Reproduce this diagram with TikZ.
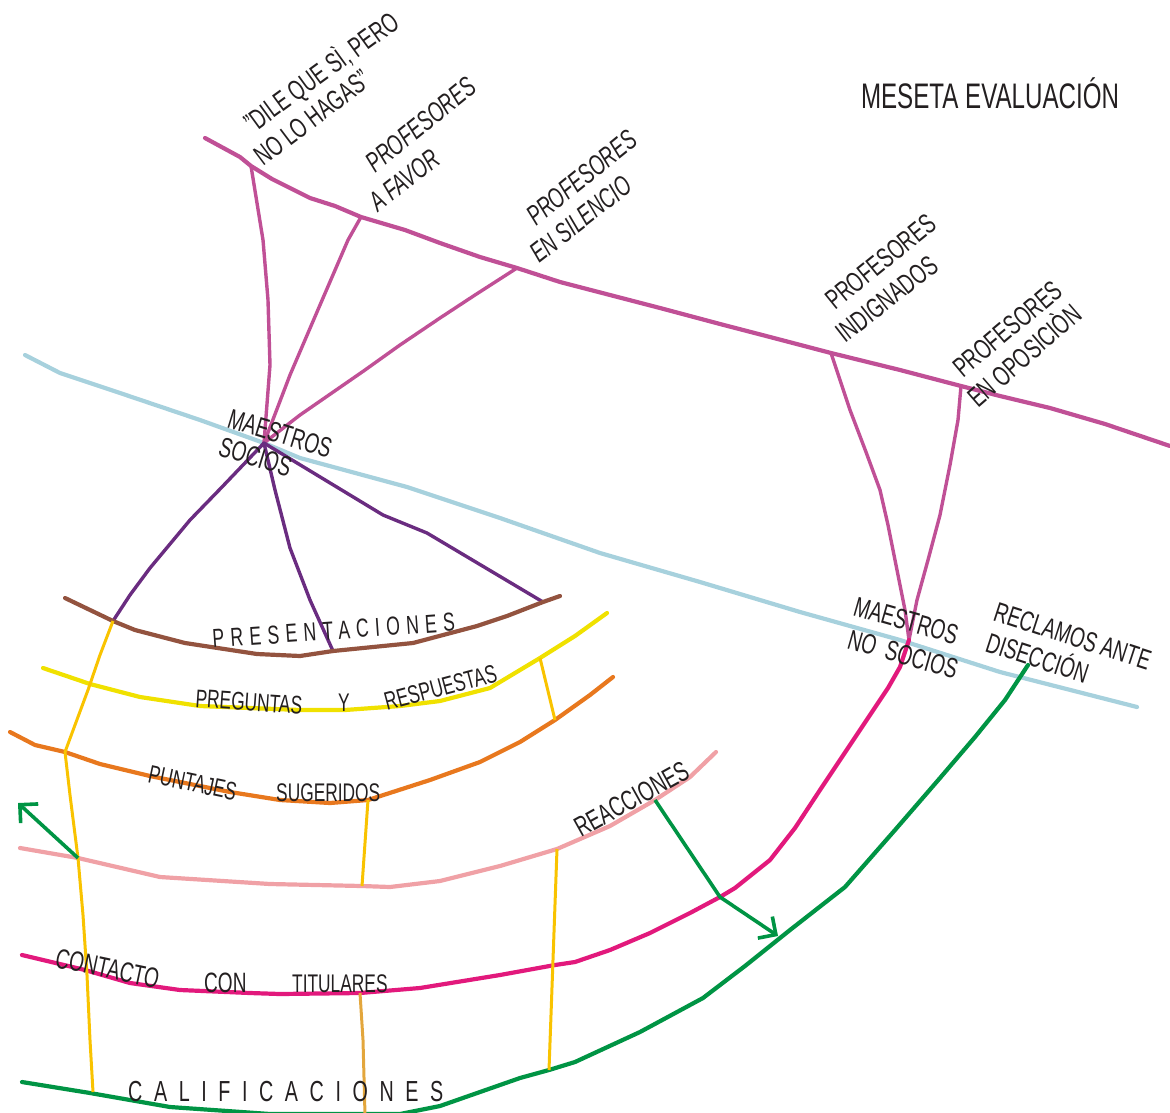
\documentclass[tikz,border=0pt]{standalone}
\usepackage{fontspec}
\setmainfont{Liberation Sans}[FakeStretch=0.68]
\usetikzlibrary{arrows.meta}

\definecolor{plum}{RGB}{192,80,150}
\definecolor{skyline}{RGB}{167,209,221}
\definecolor{violet}{RGB}{106,44,128}
\definecolor{bark}{RGB}{147,83,63}
\definecolor{lemon}{RGB}{240,225,0}
\definecolor{gold}{RGB}{249,195,0}
\definecolor{amber}{RGB}{227,166,60}
\definecolor{tangerine}{RGB}{232,120,30}
\definecolor{blush}{RGB}{240,161,166}
\definecolor{rosered}{RGB}{226,25,124}
\definecolor{leaf}{RGB}{0,148,68}
\definecolor{ink}{RGB}{35,31,32}

\tikzset{
  road/.style={line width=4.2pt, line join=round, line cap=round},
  rung/.style={line width=3pt, line join=round, line cap=butt},
  arrowpath/.style={line width=3.6pt, line join=round, draw=leaf,
    -{Straight Barb[length=13pt,width=26pt,line width=3.6pt]}},
  lbl/.style={font=\fontsize{28}{32}\selectfont, text=ink, inner sep=0pt},
  ilbl/.style={lbl, font=\fontsize{28}{32}\selectfont\itshape},
  slbl/.style={lbl, font=\fontsize{25.5}{30}\selectfont},
  spaced/.style n args={2}{lbl, font=\fontsize{#1}{30}\selectfont\addfontfeature{LetterSpace=#2}},
}

\begin{document}
\begin{tikzpicture}[x=1pt,y=-1pt]
\clip (0,0) rectangle (1170,1112);

% junction points
\coordinate (j1) at (251,166);
\coordinate (j2) at (361,217);
\coordinate (j3) at (517,268);
\coordinate (j4) at (831,353);
\coordinate (j5) at (961,386);
\coordinate (hub) at (264,443);
\coordinate (mj) at (909,640);
\coordinate (pb) at (113,621);
\coordinate (pm) at (333,651);
\coordinate (pe) at (543,602);
\coordinate (ya) at (540,658);
\coordinate (oa) at (555,720);
\coordinate (yo) at (65,752);
\coordinate (os) at (368,800);
\coordinate (yp) at (78,858);
\coordinate (ps) at (362,886);
\coordinate (pr) at (557,849);
\coordinate (rx) at (655,800);
\coordinate (bend) at (720,897);
\coordinate (tip) at (778,936);
\coordinate (ltip) at (18,803);
\coordinate (mt) at (360,993);
\coordinate (gr) at (549,1070);
\coordinate (gbot) at (365,1115);
\coordinate (ybot) at (93,1092);

% light blue line
\draw[road, skyline] (25,355) -- (60,373) -- (120,393) -- (200,420) -- (hub) -- (300,458)
  -- (407,487) -- (500,518) -- (600,553) -- (700,582) -- (800,612) -- (900,640)
  -- (1000,672) -- (1137,707);

% upper plum line and its branches
\draw[road, plum] (205,138) -- (240,157) -- (j1) -- (272,179) -- (310,198) -- (335,206)
  -- (j2) -- (405,230) -- (440,243) -- (480,257) -- (j3) -- (560,282) -- (610,295)
  -- (660,308) -- (720,324) -- (770,337) -- (j4) -- (900,370) -- (j5) -- (1000,396)
  -- (1050,408) -- (1105,424) -- (1170,446);
\draw[road, plum, line width=3.4pt] (j1) -- (263,240) -- (268,300) -- (270,365) -- (hub);
\draw[road, plum, line width=3.4pt] (j2) -- (348,240) -- (320,305) -- (290,375) -- (hub);
\draw[road, plum, line width=3.4pt] (j3) -- (475,295) -- (440,318) -- (400,345) -- (365,370) -- (300,415) -- (hub);
\draw[road, plum, line width=3.4pt] (j4) -- (850,410) -- (866,452) -- (880,490) -- (888,525)
  -- (897,570) -- (905,610) -- (mj);
\draw[road, plum, line width=3.4pt] (j5) -- (958,420) -- (950,465) -- (940,515) -- (928,560)
  -- (917,600) -- (mj);

% purple spokes from the hub
\draw[road, violet, line width=3.4pt] (hub) -- (222,487) -- (190,520) -- (150,568) -- (130,595) -- (pb);
\draw[road, violet, line width=3.4pt] (hub) -- (275,490) -- (290,548) -- (310,600) -- (pm);
\draw[road, violet, line width=3.4pt] (hub) -- (383,515) -- (427,533) -- (pe);

% brown line
\draw[road, bark] (65,598) -- (pb) -- (135,630) -- (185,643) -- (257,654) -- (300,656)
  -- (pm) -- (413,643) -- (477,626) -- (507,616) -- (pe) -- (560,596);

% yellow line
\draw[road, lemon] (43,668) -- (90,684) -- (140,697) -- (200,706) -- (300,710) -- (345,710)
  -- (400,706) -- (440,701) -- (490,688) -- (515,673) -- (ya) -- (575,636) -- (607,613);

% orange line
\draw[road, tangerine] (10,732) -- (35,745) -- (yo) -- (100,764) -- (150,776) -- (230,792)
  -- (280,800) -- (330,803) -- (os) -- (430,780) -- (480,762) -- (520,742) -- (oa)
  -- (590,695) -- (613,677);

% pink line
\draw[road, blush] (20,848) -- (yp) -- (160,877) -- (270,884) -- (ps) -- (390,887)
  -- (440,881) -- (500,866) -- (pr) -- (610,826) -- (rx) -- (690,777) -- (716,752);

% magenta line
\draw[road, rosered] (mj) -- (900,667) -- (888,688) -- (870,715) -- (850,745) -- (820,790)
  -- (795,828) -- (770,860) -- (735,888) -- (bend) -- (690,913) -- (650,933) -- (610,950)
  -- (575,962) -- (555,965) -- (500,975) -- (420,988) -- (mt) -- (280,994) -- (250,993)
  -- (180,990) -- (130,983) -- (85,970) -- (22,955);

% green line
\draw[road, leaf] (1028,665) -- (1005,700) -- (975,737) -- (940,778) -- (895,830)
  -- (845,887) -- (790,930) -- (745,966) -- (703,998) -- (640,1032) -- (575,1062)
  -- (gr) -- (520,1078) -- (440,1106) -- (400,1114) -- (270,1114) -- (170,1107)
  -- (90,1093) -- (22,1082);

% gold rungs
\draw[rung, gold] (pb) -- (100,655) -- (88,690) -- (75,725) -- (yo) -- (70,795) -- (yp)
  -- (83,915) -- (87,975) -- (90,1040) -- (ybot);
\draw[rung, gold] (ya) -- (oa);
\draw[rung, gold] (os) -- (ps);
\draw[rung, gold] (pr) -- (553,960) -- (gr);
\draw[rung, amber] (mt) -- (363,1040) -- (gbot);

% green arrows
\draw[arrowpath] (rx) -- (bend) -- (tip);
\draw[arrowpath] (yp) -- (ltip);

% labels
\node[lbl, font=\fontsize{35.5}{40}\selectfont] (title) at (990,93) {MESETA EVALUACIÓN};

\node[lbl, anchor=base west, rotate=36] (dileA) at (253,134) {"DILE QUE SÌ, PERO};
\node[lbl, anchor=base west, rotate=37] (dileB) at (263,167) {NO LO HAGAS"};

\node[ilbl, anchor=base west, rotate=39] (favorA) at (375,174) {PROFESORES};
\node[ilbl, anchor=base west, rotate=38] (favorB) at (378,213) {A FAVOR};

\node[ilbl, anchor=base west, rotate=39] (silA) at (536,227) {PROFESORES};
\node[ilbl, anchor=base west, rotate=38] (silB) at (539,264) {EN SILENCIO};

\node[lbl, anchor=base west, rotate=39] (indA) at (835,311) {PROFESORES};
\node[lbl, anchor=base west, rotate=38] (indB) at (845,344) {INDIGNADOS};

\node[lbl, anchor=base west, rotate=40] (opoA) at (963,379) {PROFESORES};
\node[lbl, anchor=base west, rotate=41] (opoB) at (978,409) {EN OPOSICIÒN};

\node[lbl, anchor=base west, rotate=-17] (socA) at (226,427) {MAESTROS};
\node[lbl, anchor=base west, rotate=-17] (socB) at (217,455) {SOCIOS};

\node[lbl, anchor=base west, rotate=-16] (nosA) at (852,615) {MAESTROS};
\node[lbl, anchor=base west, rotate=-16] (nosB) at (846,648) {NO\hspace{10pt}SOCIOS};

\node[lbl, anchor=base west, rotate=-18] (recA) at (992,620) {RECLAMOS ANTE};
\node[lbl, anchor=base west, rotate=-18] (recB) at (984,651) {DISECCIÓN};

\node[spaced={26}{24}, anchor=base west, rotate=4] (pres) at (213,648) {PRESENTACIONES};

\node[slbl, anchor=base west, rotate=-4] (preg) at (195,707) {PREGUNTAS};
\node[slbl, anchor=base west] (yy) at (338,711) {Y};
\node[slbl, anchor=base west, rotate=15] (resp) at (387,711) {RESPUESTAS};

\node[slbl, anchor=base west, rotate=-12] (punt) at (147,782) {PUNTAJES};
\node[slbl, anchor=base west] (suge) at (276,801) {SUGERIDOS};

\node[lbl, anchor=base west, rotate=29] (reac) at (581,838) {REACCIONES};

\node[lbl, anchor=base west, rotate=-12] (cont) at (54,967) {CONTACTO};
\node[lbl, anchor=base west] (conn) at (204,992) {CON};
\node[slbl, anchor=base west] (titu) at (292,992) {TITULARES};

\node[spaced={29}{40}, anchor=base west] (cali) at (128,1101) {CALIFICACIONES};
\end{tikzpicture}
\end{document}
